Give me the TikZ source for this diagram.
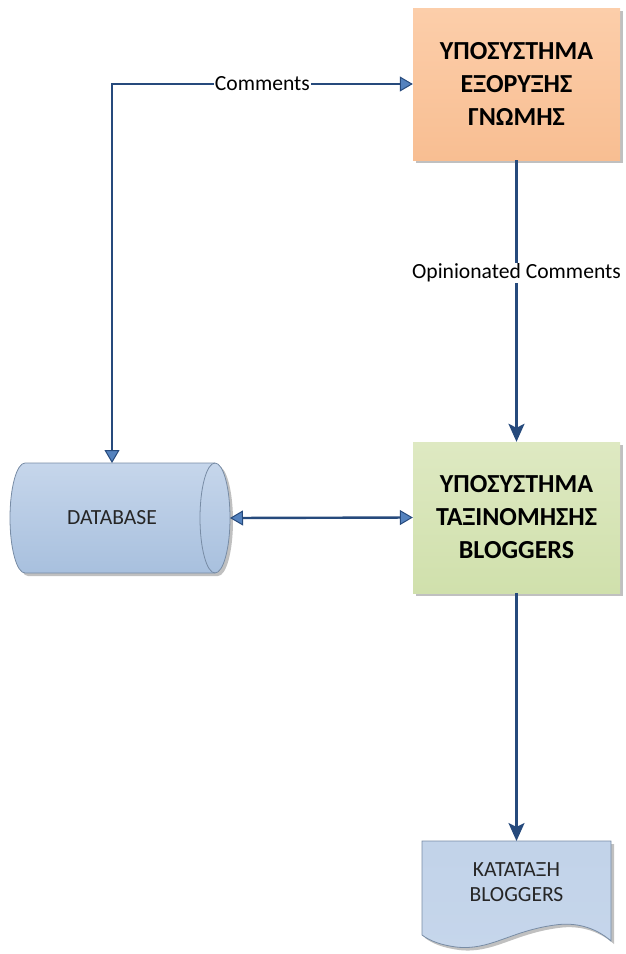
\documentclass[tikz,border=0pt]{standalone}
\usepackage{fontspec}
\setmainfont{Carlito}
\usetikzlibrary{arrows.meta,shadows}
\definecolor{lc}{RGB}{38,74,124}
\definecolor{af}{RGB}{84,130,190}
\definecolor{orT}{RGB}{252,206,170}
\definecolor{orB}{RGB}{248,190,146}
\definecolor{grT}{RGB}{222,233,194}
\definecolor{grB}{RGB}{208,224,172}
\definecolor{blT}{RGB}{198,214,235}
\definecolor{blB}{RGB}{168,192,222}
\definecolor{edge}{RGB}{120,140,165}
\tikzset{
  mytri/.tip={Triangle[length=13pt,width=15pt,fill=af,line width=1pt]},
  mystl/.tip={Stealth[length=18pt,width=16pt,inset=4pt]}
}
\begin{document}
\begin{tikzpicture}[x=1pt,y=-1pt,
  shd/.style={drop shadow={shadow xshift=3pt,shadow yshift=-3pt,fill=black!45,opacity=0.55}},
  procbox/.style={shd,minimum width=207pt,align=center,inner sep=0pt,
     font=\fontsize{26}{33}\selectfont\bfseries},
  lbl/.style={fill=white,inner sep=1pt,font=\fontsize{21.6}{26}\selectfont},
  plain/.style={align=center,font=\fontsize{21.6}{25}\selectfont,text=black!85},
  conn/.style={draw=lc,line width=2.4pt}
]
\useasboundingbox (0,0) rectangle (625,954);

% boxes
\node[procbox,top color=orT,bottom color=orB,minimum height=152pt] (b1) at (516.5,84)
  {ΥΠΟΣΥΣΤΗΜΑ\\ΕΞΟΡΥΞΗΣ\\ΓΝΩΜΗΣ};
\node[procbox,top color=grT,bottom color=grB,minimum height=151pt] (b2) at (516.5,517.5)
  {ΥΠΟΣΥΣΤΗΜΑ\\ΤΑΞΙΝΟΜΗΣΗΣ\\BLOGGERS};

% database cylinder
\path[shd,top color=blT,bottom color=blB,draw=edge,line width=0.8pt]
  (25,463) -- (215,463) arc[start angle=-90,end angle=90,x radius=15,y radius=55]
  -- (25,573) arc[start angle=90,end angle=270,x radius=15,y radius=55] -- cycle;
\draw[edge,line width=0.8pt] (215,463) arc[start angle=-90,end angle=-270,x radius=15,y radius=55];
\node[plain] (db) at (112,518) {DATABASE};
\coordinate (dbtop) at (112,463);
\coordinate (dbright) at (230,518);

% document
\path[shd,top color=blT!85!blB,bottom color=blT,draw=edge,line width=0.8pt]
  (422,841) -- (611,841) -- (611,941)
  .. controls (595,927) and (575,922) .. (555,925)
  .. controls (510,931) and (490,951) .. (456,947)
  .. controls (441,945) and (430,941) .. (422,935) -- cycle;
\node[plain] (doc) at (516.5,882) {ΚΑΤΑΤΑΞΗ\\BLOGGERS};
\coordinate (doctop) at (516.5,841);

% connectors
\draw[conn,{mytri}-{mytri}] (dbtop) |- node[lbl,pos=0.75] {Comments} (b1.west);
\draw[conn,-{mystl}] (b1.south) -- node[lbl,pos=0.4] {Opinionated Comments} (b2.north);
\draw[conn,{mytri}-{mytri}] (dbright) -- (b2.west);
\draw[conn,-{mystl}] (b2.south) -- (doctop);
\end{tikzpicture}
\end{document}
